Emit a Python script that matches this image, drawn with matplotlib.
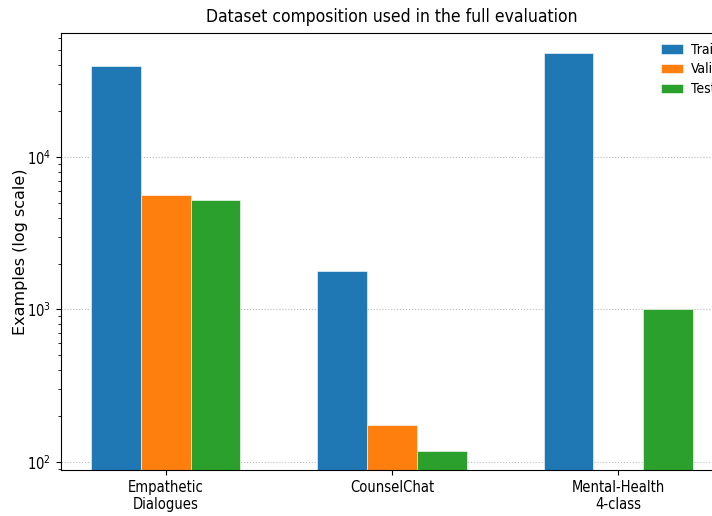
import matplotlib
matplotlib.use("Agg")
import matplotlib.pyplot as plt
from matplotlib.font_manager import FontProperties
import numpy as np

datasets = ["Empathetic\nDialogues", "CounselChat", "Mental-Health\n4-class"]
splits = ["Train", "Validation", "Test"]
train = [39500, 1800, 48000]
validation = [5650, 175, 0]
test = [5200, 118, 1000]
colors = ["#1f77b4", "#ff7f0e", "#2ca02c"]

COND = dict(family="DejaVu Sans", stretch="condensed")

fig = plt.figure(figsize=(7.12, 5.16), dpi=100)
ax = fig.add_axes([61 / 712, 46 / 516, 662 / 712, 437 / 516])

x = np.arange(len(datasets))
width = 0.22
for i, (name, vals) in enumerate(zip(splits, [train, validation, test])):
    vals = np.array(vals, dtype=float)
    vals[vals <= 0] = np.nan  # no validation split for Mental-Health
    ax.bar(x + (i - 1) * width, vals, width, label=name, color=colors[i],
           edgecolor="white", linewidth=0.4)

ax.set_yscale("log")
ax.set_ylim(88.5, 65000)
ax.set_xticks(x)
ax.set_xticklabels(datasets, fontsize=10.5, **COND)
for lbl in ax.get_yticklabels():
    lbl.set_fontproperties(FontProperties(size=10.5, **COND))
ax.set_ylabel("Examples (log scale)", fontsize=11.5, labelpad=-1)
ax.set_title("Dataset composition used in the full evaluation", fontsize=12.5,
             pad=8, **COND)
ax.grid(axis="y", which="major", linestyle=":", color="#bbbbbb", linewidth=0.8)
ax.set_axisbelow(True)
ax.legend(loc="upper left", frameon=False, prop=dict(size=10, **COND),
          handlelength=1.6, labelspacing=0.43, handletextpad=0.6,
          bbox_to_anchor=(648 / 712, 1 - 30 / 516),
          bbox_transform=fig.transFigure)

fig.savefig("out.png", dpi=100)
